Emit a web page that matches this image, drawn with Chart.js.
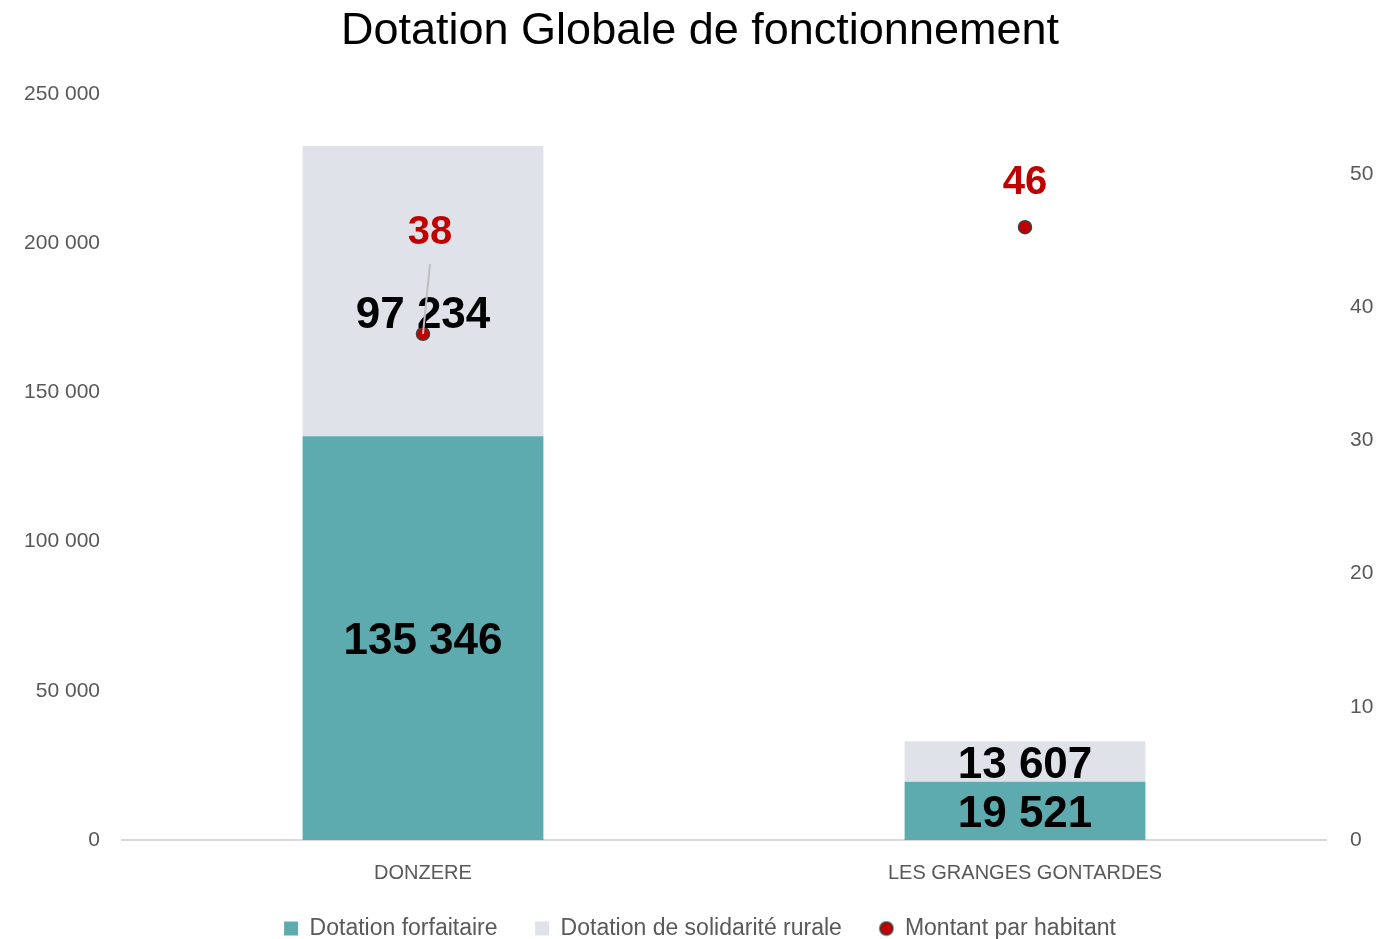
<!DOCTYPE html>
<html>
<head>
<meta charset="utf-8">
<script src="https://cdn.jsdelivr.net/npm/chart.js@4.4.1/dist/chart.umd.min.js"></script>
<style>
  html, body { margin: 0; padding: 0; background: #fff; }
  #wrap { width: 1400px; height: 939px; }
</style>
</head>
<body>
<div id="wrap"><canvas id="dgf"></canvas></div>
<script>
  // données
  const communes = ['DONZERE', 'LES GRANGES GONTARDES'];
  const forfaitaire = [135346, 19521];
  const solidarite = [97234, 13607];
  const parHabitant = [38, 46];
  const leftTicks = [0, 50000, 100000, 150000, 200000, 250000];
  const rightTicks = [0, 10, 20, 30, 40, 50];

  const fmt = v => String(v).replace(/\B(?=(\d{3})+(?!\d))/g, ' ');
  const FONT = '"Liberation Sans", Arial, sans-serif';

  // petit rond pour la légende du montant par habitant
  const dot = document.createElement('canvas');
  dot.width = 16; dot.height = 16;
  const dctx = dot.getContext('2d');
  dctx.beginPath();
  dctx.arc(8, 8, 6.5, 0, Math.PI * 2);
  dctx.fillStyle = '#c00000';
  dctx.fill();
  dctx.lineWidth = 1.5;
  dctx.strokeStyle = '#404040';
  dctx.stroke();

  // étiquettes de données
  const labelsPlugin = {
    id: 'labels',
    afterDatasetsDraw(chart) {
      const ctx = chart.ctx;
      ctx.save();
      ctx.textAlign = 'center';
      ctx.textBaseline = 'middle';
      [0, 1].forEach(di => {
        const meta = chart.getDatasetMeta(di);
        meta.data.forEach((bar, i) => {
          let mid = (bar.y + bar.base) / 2 + 4;
          if (di === 1 && i === 0) mid += 21;
          ctx.font = 'bold 44px ' + FONT;
          ctx.fillStyle = '#000';
          ctx.fillText(fmt(chart.data.datasets[di].data[i]), bar.x, mid);
        });
      });
      const pts = chart.getDatasetMeta(2).data;
      pts.forEach((p, i) => {
        let ly = p.y - 44;
        let lx = p.x;
        if (i === 0) {
          // étiquette déplacée, avec trait de rappel
          lx = p.x + 7;
          ly = p.y - 101;
          ctx.strokeStyle = '#bfbfbf';
          ctx.lineWidth = 2;
          ctx.beginPath();
          ctx.moveTo(lx, ly + 31);
          ctx.lineTo(p.x, p.y);
          ctx.stroke();
        }
        ctx.font = 'bold 40px ' + FONT;
        ctx.fillStyle = '#c00000';
        ctx.fillText(String(parHabitant[i]), lx, ly);
      });
      ctx.restore();
    }
  };

  new Chart(document.getElementById('dgf'), {
    data: {
      labels: communes,
      datasets: [{
        type: 'bar',
        label: 'Dotation forfaitaire',
        data: forfaitaire,
        backgroundColor: '#5dabaf',
        stack: 's',
        yAxisID: 'y',
        pointStyle: 'rect',
        barPercentage: 0.4,
        categoryPercentage: 1,
        order: 2
      }, {
        type: 'bar',
        label: 'Dotation de solidarité rurale',
        data: solidarite,
        backgroundColor: '#dfe2e9',
        stack: 's',
        yAxisID: 'y',
        pointStyle: 'rect',
        barPercentage: 0.4,
        categoryPercentage: 1,
        order: 2
      }, {
        type: 'line',
        label: 'Montant par habitant',
        data: parHabitant,
        yAxisID: 'y2',
        showLine: false,
        pointStyle: 'circle',
        pointRadius: 6.5,
        pointBackgroundColor: '#c00000',
        pointBorderColor: '#404040',
        pointBorderWidth: 1.5,
        order: 1
      }]
    },
    options: {
      responsive: true,
      maintainAspectRatio: false,
      animation: false,
      layout: { padding: { top: 0, bottom: -11, left: 0, right: 0 } },
      plugins: {
        title: {
          display: true,
          text: 'Dotation Globale de fonctionnement',
          color: '#000',
          font: { family: FONT, size: 45, weight: 'normal' },
          padding: { top: 5, bottom: 35 }
        },
        legend: {
          position: 'bottom',
          labels: {
            usePointStyle: true,
            boxWidth: 14,
            boxHeight: 14,
            color: '#595959',
            padding: 12,
            font: { family: FONT, size: 23 },
            sort: (a, b) => a.datasetIndex - b.datasetIndex,
            generateLabels(chart) {
              const items = Chart.defaults.plugins.legend.labels.generateLabels(chart);
              items.forEach(it => {
                if (it.datasetIndex === 2) it.pointStyle = dot;
                else it.text = it.text + '    ';
              });
              return items;
            }
          }
        },
        tooltip: { enabled: false }
      },
      scales: {
        x: {
          stacked: true,
          afterFit(s) { s.height = 65; },
          grid: { display: false },
          border: { color: '#d9d9d9', width: 2 },
          ticks: { color: '#595959', font: { family: FONT, size: 20 }, padding: 13 }
        },
        y: {
          stacked: true,
          position: 'left',
          min: 0,
          max: 250000,
          afterFit(s) { s.width = 122; },
          afterBuildTicks(s) { s.ticks = leftTicks.map(v => ({ value: v })); },
          grid: { display: false },
          border: { display: false },
          ticks: { color: '#595959', font: { family: FONT, size: 21 }, padding: 14, callback: v => fmt(v) }
        },
        y2: {
          position: 'right',
          min: 0,
          max: 56,
          afterFit(s) { s.width = 74; },
          afterBuildTicks(s) { s.ticks = rightTicks.map(v => ({ value: v })); },
          grid: { display: false },
          border: { display: false },
          ticks: { color: '#595959', font: { family: FONT, size: 21 }, padding: 16 }
        }
      }
    },
    plugins: [labelsPlugin]
  });
</script>
</body>
</html>
